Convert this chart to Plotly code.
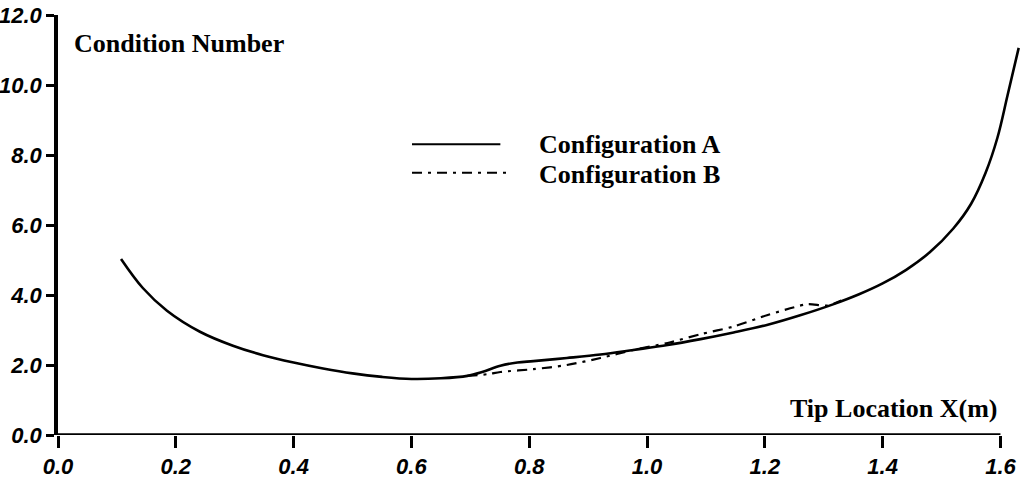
import plotly.graph_objects as go

# Configuration A (solid)
x_a = [0.107, 0.144, 0.185, 0.241, 0.297, 0.348, 0.40, 0.45, 0.50, 0.55, 0.60, 0.65, 0.695,
       0.72, 0.751, 0.78, 0.807, 0.864, 0.921, 0.977, 1.035, 1.091, 1.147, 1.205, 1.26,
       1.317, 1.36, 1.40, 1.44, 1.48, 1.52, 1.55, 1.575, 1.595, 1.612, 1.631]
y_a = [5.03, 4.2, 3.55, 2.95, 2.55, 2.28, 2.07, 1.9, 1.76, 1.66, 1.6, 1.62, 1.69,
       1.8, 1.98, 2.07, 2.11, 2.2, 2.3, 2.43, 2.57, 2.74, 2.93, 3.15, 3.42,
       3.74, 4.02, 4.33, 4.72, 5.22, 5.9, 6.6, 7.5, 8.5, 9.7, 11.06]

# Configuration B (dash-dot), where it departs from A
x_b = [0.695, 0.73, 0.751, 0.807, 0.864, 0.921, 0.977, 1.035, 1.091, 1.147, 1.205, 1.25,
       1.273, 1.307, 1.33]
y_b = [1.69, 1.74, 1.8, 1.88, 2.0, 2.2, 2.43, 2.63, 2.88, 3.1, 3.43, 3.65,
       3.74, 3.7, 3.84]

x_ticks = [0.0, 0.2, 0.4, 0.6, 0.8, 1.0, 1.2, 1.4, 1.6]
y_ticks = [0.0, 2.0, 4.0, 6.0, 8.0, 10.0, 12.0]

tick_font = dict(family="Liberation Sans", size=22, color="black", weight="bold", style="italic")
serif = dict(family="Liberation Serif", size=26, color="black", weight="bold")

fig = go.Figure()
fig.add_trace(go.Scatter(x=x_a, y=y_a, mode="lines",
                         line=dict(color="black", width=2.6, shape="spline", smoothing=1.0),
                         showlegend=False))
fig.add_trace(go.Scatter(x=x_b, y=y_b, mode="lines",
                         line=dict(color="black", width=2.2, shape="spline", smoothing=0.8,
                                   dash="10px,6px,3px,6px"),
                         showlegend=False))

# x-axis line (only to 1.6)
fig.add_shape(type="line", xref="x", yref="y", x0=0, x1=1.6, y0=0, y1=0,
              line=dict(color="black", width=3.5))
# legend samples
fig.add_shape(type="line", xref="x", yref="y", x0=0.601, x1=0.751, y0=8.31, y1=8.31,
              line=dict(color="black", width=2))
fig.add_shape(type="line", xref="x", yref="y", x0=0.601, x1=0.763, y0=7.49, y1=7.49,
              line=dict(color="black", width=2, dash="10px,6px,3px,6px"))
fig.add_annotation(x=0.813, y=8.31, xref="x", yref="y", text="Configuration A",
                   showarrow=False, xanchor="left", yanchor="middle", font=serif)
fig.add_annotation(x=0.813, y=7.45, xref="x", yref="y", text="Configuration B",
                   showarrow=False, xanchor="left", yanchor="middle", font=serif)
fig.add_annotation(x=0.024, y=11.2, xref="x", yref="y", text="Condition Number",
                   showarrow=False, xanchor="left", yanchor="middle", font=serif)
fig.add_annotation(x=1.6, y=0.77, xref="x", yref="y", text="Tip Location X(m)",
                   showarrow=False, xanchor="right", yanchor="middle", font=serif)

fig.update_xaxes(range=[0, 1.64], tickvals=x_ticks, ticktext=[f"{v:.1f}" for v in x_ticks],
                 ticks="outside", ticklen=12, tickwidth=3, tickcolor="black", automargin=False,
                 showline=False, showgrid=False, zeroline=False, tickfont=tick_font)
fig.update_yaxes(range=[0, 12], tickvals=y_ticks, ticktext=[f"{v:.1f}" for v in y_ticks],
                 ticks="outside", ticklen=8, tickwidth=2.5, tickcolor="black", automargin=False,
                 showline=True, linecolor="black", linewidth=3.5, mirror=False,
                 showgrid=False, zeroline=False, tickfont=tick_font)

fig.update_layout(width=1034, height=491, margin=dict(l=58, r=10, t=15, b=56),
                  plot_bgcolor="white", paper_bgcolor="white")
fig.write_html("out.html")
